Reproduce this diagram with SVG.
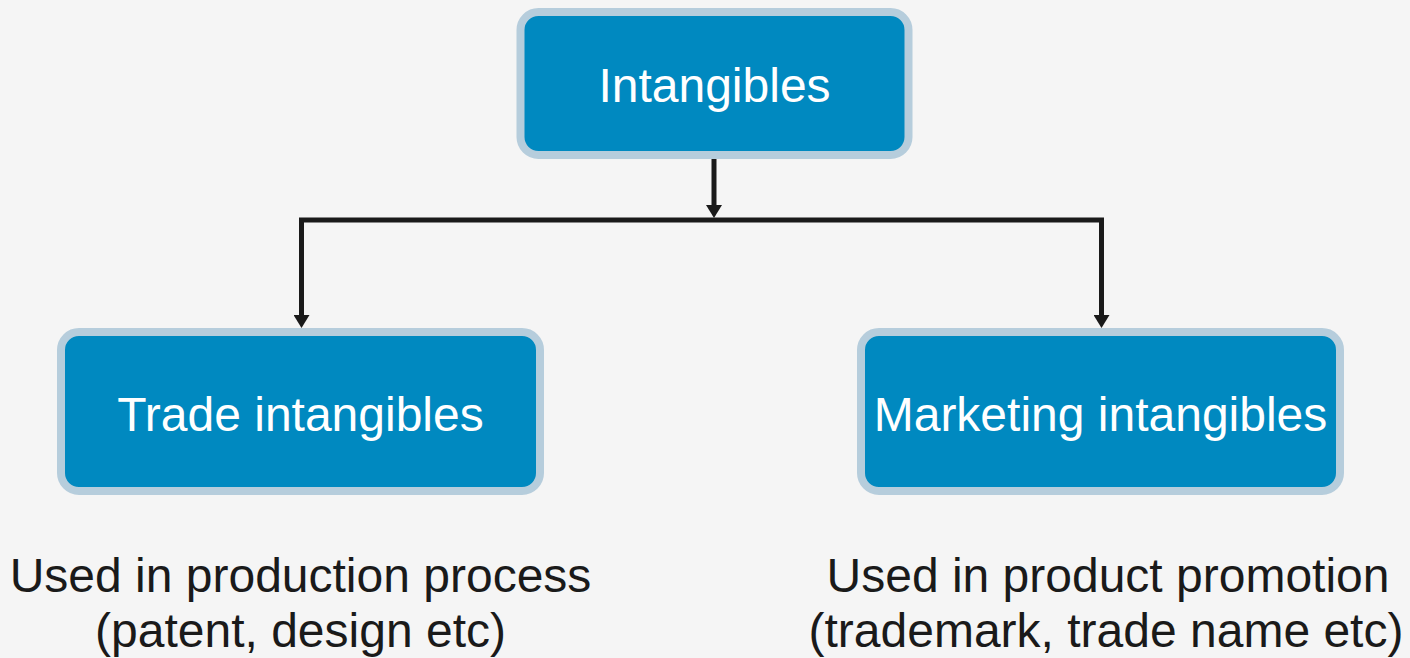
<svg xmlns="http://www.w3.org/2000/svg" width="1410" height="658" viewBox="0 0 1410 658">
<style>
.box{fill:#0089c0;stroke:#b6cddc;stroke-width:8}
.lbl{font-family:"Liberation Sans",Arial,sans-serif;font-size:48px;fill:#ffffff;text-anchor:middle}
.note{font-family:"Liberation Sans",Arial,sans-serif;font-size:48px;fill:#1a1a1a;text-anchor:middle}
.conn{fill:none;stroke:#1a1a1a;stroke-width:5}
</style>
<defs>
<marker id="arr" viewBox="0 0 13 16" markerWidth="13" markerHeight="16" refX="5" refY="8" orient="auto" markerUnits="userSpaceOnUse">
<path d="M0,0 L13,8 L0,16 z" fill="#1a1a1a"/>
</marker>
</defs>
<rect width="1410" height="658" fill="#f5f5f5"/>
<g id="connectors">
<line class="conn" x1="714" y1="158" x2="714" y2="210" marker-end="url(#arr)"/>
<line class="conn" x1="299" y1="220" x2="1104" y2="220"/>
<line class="conn" x1="301.5" y1="218" x2="301.5" y2="320" marker-end="url(#arr)"/>
<line class="conn" x1="1101.5" y1="218" x2="1101.5" y2="320" marker-end="url(#arr)"/>
</g>
<g id="intangibles">
<rect class="box" x="520.5" y="12" width="388" height="143" rx="18"/>
<text class="lbl" x="714.5" y="102">Intangibles</text>
</g>
<g id="trade">
<rect class="box" x="61" y="332" width="479" height="159" rx="18"/>
<text class="lbl" x="300.5" y="431">Trade intangibles</text>
</g>
<g id="marketing">
<rect class="box" x="861" y="332" width="479" height="159" rx="18"/>
<text class="lbl" x="1100.5" y="431">Marketing intangibles</text>
</g>
<g id="trade-note">
<text class="note" x="300.5" y="591.5">Used in production process</text>
<text class="note" x="300.5" y="647">(patent, design etc)</text>
</g>
<g id="marketing-note">
<text class="note" x="1108" y="591.5">Used in product promotion</text>
<text class="note" x="1106" y="647">(trademark, trade name etc)</text>
</g>
</svg>
